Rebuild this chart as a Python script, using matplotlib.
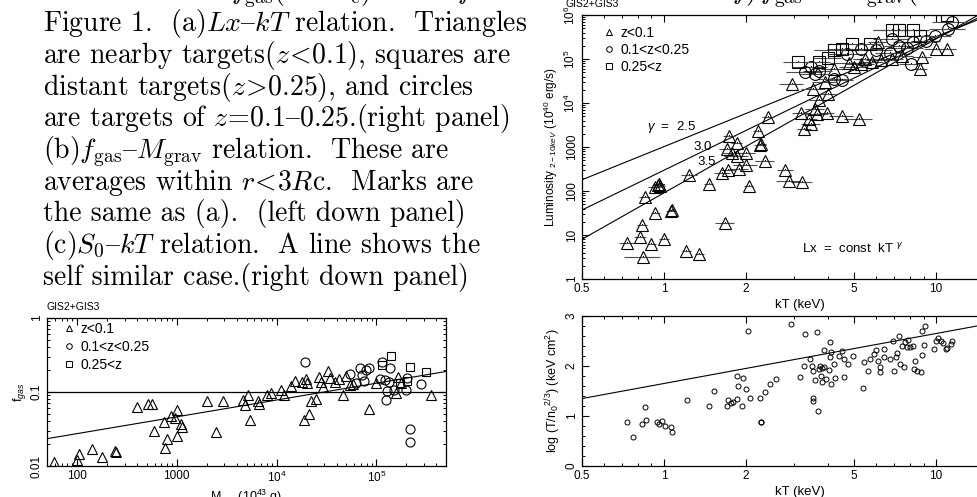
import matplotlib.pyplot as plt
from matplotlib.lines import Line2D
from matplotlib.ticker import LogLocator, MultipleLocator, NullFormatter
import numpy as np

plt.rcParams['font.family'] = ['Liberation Sans', 'DejaVu Sans']
plt.rcParams['mathtext.fontset'] = 'custom'
plt.rcParams['mathtext.rm'] = 'Liberation Sans'
plt.rcParams['mathtext.it'] = 'Liberation Sans:italic'
plt.rcParams['mathtext.bf'] = 'Liberation Sans:bold'
plt.rcParams['axes.linewidth'] = 0.9

# ---- caption text (serif, cut page); '{' is the en dash slot of cmr10 ----
caption = [
    r"Figure 1.  (a)$Lx${$kT$ relation.  Triangles",
    r"are nearby targets($z\!<\!0.1$), squares are",
    r"distant targets($z\!>\!0.25$), and circles",
    r"are targets of $z\!=\!0.1${$0.25$.(right panel)",
    r"(b)$f_{\mathrm{gas}}${$M_{\mathrm{grav}}$ relation.  These are",
    r"averages within $r\!<\!3R$c.  Marks are",
    r"the same as (a).  (left down panel)",
    r"(c)$S_0${$kT$ relation.  A line shows the",
    r"self similar case.(right down panel)",
]
cut_x = [231, 457, 732, 840]
cut_txt = [r"$f_{\mathrm{gas}}(<3R_{\mathrm{c}})$", r"$f$",
           r"$f)\,f_{\mathrm{gas}}$", r"$M_{\mathrm{grav}}(<3R_{\mathrm{c}})$"]

# ---- (a) Lx - kT ----
tri_kT = [0.73, 0.815, 0.84, 0.90, 1.00, 0.83, 0.93, 1.06, 1.07, 0.85, 0.93, 0.95,
          0.96, 0.97, 1.21, 1.35, 1.24, 1.46, 1.68, 1.64, 1.72, 2.05, 1.89, 2.00,
          1.78, 1.85, 2.00, 1.70, 1.85, 2.26, 2.28, 2.35, 2.79, 2.88, 3.21, 1.74,
          2.21, 2.42, 2.95, 3.20, 3.40, 3.47, 3.28, 3.65, 3.60, 3.99, 4.50, 5.20,
          3.54, 3.72, 4.00, 4.20, 5.30, 5.50, 6.10, 8.70, 8.90, 10.0, 11.0, 6.90,
          7.50, 5.80, 6.30, 4.80, 5.00, 3.90]
tri_L = [6.7, 9.2, 3.1, 6.1, 8.1, 17, 31.6, 35, 37, 73, 125, 135,
         145, 130, 4.4, 3.7, 237, 148, 18.7, 259, 297, 128, 318, 380,
         740, 620, 740, 910, 1250, 1090, 1150, 475, 297, 167, 158, 1780,
         2300, 4700, 2.7e4, 6000, 4300, 3300, 2500, 5500, 7200, 6000, 5100, 4400,
         2.07e4, 1.2e4, 1.6e4, 5.9e4, 7.7e4, 1.0e5, 2.4e5, 5.9e4, 1.1e5, 1.7e5, 1.7e5, 1.0e5,
         1.2e5, 8.5e4, 9.5e4, 8.0e4, 6.5e4, 3.0e4]
tri_e = [0.06, 0.05, 0.15, 0.04, 0.04, 0.04, 0.04, 0.04, 0.03, 0.05, 0.06, 0.05,
         0.05, 0.04, 0.04, 0.04, 0.07, 0.04, 0.08, 0.07, 0.06, 0.04, 0.08, 0.10,
         0.08, 0.10, 0.08, 0.06, 0.05, 0.05, 0.04, 0.08, 0.07, 0.10, 0.09, 0.05,
         0.04, 0.05, 0.10, 0.08, 0.07, 0.08, 0.06, 0.10, 0.08, 0.06, 0.10, 0.12,
         0.10, 0.08, 0.08, 0.10, 0.12, 0.10, 0.08, 0.06, 0.08, 0.10, 0.08, 0.10,
         0.10, 0.10, 0.12, 0.15, 0.12, 0.10]
cir_kT = [3.47, 3.7, 4.2, 4.5, 5.3, 6.0, 6.9, 7.3, 8.2, 8.1, 9.9, 11.1, 11.4, 6.8,
          4.7, 3.3, 3.6, 7.8, 9.2]
cir_L = [6.5e4, 5.4e4, 3.5e4, 3.3e4, 1.7e5, 1.6e5, 2.8e5, 2.0e5, 2.4e5, 7.7e4, 3.4e5,
         4.8e5, 6.9e5, 1.4e5, 1.3e5, 5.0e4, 4.5e4, 1.8e5, 2.6e5]
cir_e = [0.15, 0.12, 0.12, 0.10, 0.20, 0.15, 0.15, 0.12, 0.15, 0.10, 0.15, 0.15, 0.15,
         0.12, 0.15, 0.15, 0.12, 0.15, 0.12]
sq_kT = [3.1, 3.7, 4.0, 4.5, 4.9, 4.2, 6.9, 7.3, 8.2, 8.7, 11.0, 5.7]
sq_L = [8.6e4, 8.6e4, 1.05e5, 1.7e5, 2.2e5, 1.6e5, 4.5e5, 4.5e5, 4.5e5, 3.4e5, 9.8e5, 2.2e5]
sq_e = [0.12, 0.10, 0.12, 0.12, 0.12, 0.15, 0.15, 0.20, 0.15, 0.15, 0.12, 0.10]
gammas = [2.5, 3.0, 3.5]
L_at_half = [180, 37, 8]          # line value at kT = 0.5 keV

# ---- (b) fgas - Mgrav ----
tri_M = [59, 100, 105, 142, 177, 240, 245, 398, 515, 565, 593, 743, 760, 793, 875, 960,
         1000, 1000, 1090, 1120, 2000, 2480, 2900, 4600, 4790, 5170, 5380, 6530, 6700,
         8100, 8900, 11200, 11900, 14100, 15300, 19600, 20000, 19000, 21000, 22000,
         25000, 18000, 26500, 28000, 29000, 33000, 34000, 39000, 42000, 46000, 50000,
         55000, 58000, 84000, 100000, 157000, 165000, 175000, 350000]
tri_f = [0.0114, 0.012, 0.0145, 0.0168, 0.0133, 0.016, 0.0155, 0.063, 0.069, 0.069,
         0.0297, 0.039, 0.0174, 0.023, 0.047, 0.044, 0.0257, 0.057, 0.037, 0.034,
         0.0745, 0.0289, 0.0745, 0.0785, 0.066, 0.09, 0.042, 0.0745, 0.068, 0.092,
         0.097, 0.108, 0.092, 0.12, 0.14, 0.15, 0.133, 0.0416, 0.051, 0.0757, 0.081,
         0.136, 0.159, 0.136, 0.116, 0.192, 0.154, 0.136, 0.148, 0.090, 0.164, 0.123,
         0.13, 0.0597, 0.132, 0.098, 0.159, 0.134, 0.092]
cir_M = [19500, 55000, 62000, 68000, 72000, 79000, 84000, 76000, 108000, 115000, 121000,
         128000, 126000, 138000, 133000, 150000, 197000, 204000, 220000, 220000, 284000]
cir_f = [0.253, 0.173, 0.133, 0.21, 0.168, 0.196, 0.21, 0.139, 0.151, 0.253, 0.144,
         0.102, 0.079, 0.21, 0.137, 0.108, 0.108, 0.154, 0.032, 0.021, 0.13]
sq_M = [115000, 142000, 172000, 217000, 314000, 205000]
sq_f = [0.233, 0.302, 0.132, 0.217, 0.186, 0.14]
f_flat = 0.1
fit_f50, fit_slope = 0.0234, 0.227   # power law through M = 50

# ---- (c) S0 - kT ----
s_kT = [0.73, 0.77, 0.83, 0.85, 0.86, 0.94, 0.96, 0.98, 1.01, 1.06, 1.07, 1.22, 1.47, 1.53,
        1.70, 1.72, 1.77, 1.79, 1.86, 1.85, 1.87, 1.93, 1.95, 2.01, 2.03, 2.07, 2.25, 2.27,
        2.28, 2.35, 2.46, 2.58, 2.92, 3.16, 3.26, 3.30, 3.43, 3.49, 3.54, 3.52, 3.53, 3.58,
        3.65, 3.69, 3.71, 3.76, 3.78, 3.80, 3.81, 3.86, 3.89, 3.93, 4.04, 4.06, 4.08, 4.12,
        4.11, 4.20, 4.27, 4.40, 4.50, 4.60, 4.60, 4.75, 4.97, 5.37, 5.45, 5.60, 5.70, 5.90,
        6.00, 6.10, 6.20, 6.20, 6.45, 6.45, 6.80, 6.95, 6.98, 7.10, 7.20, 7.30, 7.40, 7.50,
        7.60, 7.70, 7.80, 7.90, 8.00, 8.20, 8.30, 8.40, 8.50, 8.80, 8.90, 8.90, 9.00, 9.10,
        9.80, 10.0, 10.2, 10.4, 10.6, 10.9, 11.0, 11.3, 11.4]
s_log = [0.88, 0.59, 0.85, 1.18, 0.93, 0.89, 0.85, 0.90, 0.81, 0.78, 0.68, 1.33, 1.21, 1.51,
         1.21, 1.33, 1.26, 1.28, 1.34, 1.81, 1.61, 1.21, 1.77, 1.55, 2.70, 1.37, 1.36, 0.89,
         0.89, 1.48, 1.65, 1.75, 2.85, 1.79, 2.01, 2.65, 2.15, 2.01, 1.91, 1.31, 1.36, 1.73,
         2.68, 1.11, 1.95, 2.01, 1.81, 1.68, 1.97, 1.98, 2.33, 1.75, 1.93, 2.48, 2.18, 2.29,
         1.65, 2.05, 1.77, 2.21, 2.31, 2.15, 1.79, 2.05, 2.21, 1.57, 2.08, 1.90, 2.15, 2.25,
         2.33, 2.11, 1.98, 1.89, 2.35, 2.19, 2.15, 2.51, 1.90, 2.18, 2.26, 2.61, 2.05, 2.41,
         1.98, 2.48, 2.38, 2.53, 2.38, 2.41, 1.95, 2.11, 1.90, 1.88, 2.23, 2.71, 2.43, 2.81,
         2.35, 2.51, 2.57, 2.51, 2.46, 2.35, 2.37, 2.45, 2.50]
ss_offset = 1.65   # log S = log kT + offset

W, H = 978, 497


def box(l, t, r, b):
    return [l / W, 1 - b / H, (r - l) / W, (b - t) / H]


def style(ax):
    ax.tick_params(which='both', direction='in', top=True, right=True, labelsize=8.5, pad=3)
    ax.tick_params(which='major', length=5, width=0.8)
    ax.tick_params(which='minor', length=2.5, width=0.7)


def rot_y(ax):
    for lab in ax.get_yticklabels():
        lab.set_rotation(90)
        lab.set_va('center')


fig = plt.figure(figsize=(W / 100, H / 100), dpi=100)

serif = ['cmr10', 'DejaVu Serif']
for i, line in enumerate(caption):
    fig.text(43 / W, 1 - (31 + 31.75 * i) / H, line, family=serif, size=20,
             math_fontfamily='cm', va='baseline')
for x, t in zip(cut_x, cut_txt):
    fig.text(x / W, 1 + 1 / H, t, family=serif, size=20, math_fontfamily='cm', va='baseline')

# (a)
ax1 = fig.add_axes(box(582, 15, 1018, 279))
ax1.set_xscale('log')
ax1.set_yscale('log')
kk = np.logspace(np.log10(0.5), np.log10(20), 100)
for g, a in zip(gammas, L_at_half):
    ax1.plot(kk, a * (kk / 0.5) ** g, color='k', lw=0.8)
for xs, ys, es, m in [(tri_kT, tri_L, tri_e, '^'), (cir_kT, cir_L, cir_e, 'o'),
                      (sq_kT, sq_L, sq_e, 's')]:
    xs = np.array(xs)
    ax1.errorbar(xs, ys, xerr=xs * np.array(es), fmt='none', ecolor='0.3', elinewidth=0.8, capsize=0)
    ax1.plot(xs, ys, m, ls='none', mfc='none', mec='k', mew=0.8, ms=8.5 if m != 's' else 8)
    ax1.plot(xs, ys, ',', color='k')
ax1.set_xlim(0.5, 20)
ax1.set_ylim(1, 1e6)
ax1.set_xticks([0.5, 1, 2, 5, 10], ['0.5', '1', '2', '5', '10'])
ax1.xaxis.set_minor_locator(LogLocator(subs=np.arange(2, 10) * 0.1 * 10))
ax1.xaxis.set_minor_formatter(NullFormatter())
ax1.set_yticks([1, 10, 100, 1000, 1e4, 1e5, 1e6],
               ['1', '10', '100', '1000', '10$^4$', '10$^5$', '10$^6$'])
style(ax1)
rot_y(ax1)
ax1.set_xlabel('kT (keV)', fontsize=9.5, labelpad=3)
ax1.set_ylabel('Luminosity $_{2-10keV}$ (10$^{40}$ erg/s)', fontsize=8.5, labelpad=2)
ax1.text(-16 / 436, 1 + 6 / 264, 'GIS2+GIS3', transform=ax1.transAxes, fontsize=7.5,
         ha='left', va='bottom')
ax1.text(0.87, 2850, r'$\gamma$  =  2.5', fontsize=9.5, va='center')
ax1.text(1.28, 1000, '3.0', fontsize=9.5, va='center')
ax1.text(1.33, 457, '3.5', fontsize=9.5, va='center')
ax1.text(3.22, 4.8, r'Lx  =  const  kT $^{\gamma}$', fontsize=9.5, va='center')
hd = [Line2D([], [], marker=m, ls='none', mfc='none', mec='k', mew=0.7, ms=4) for m in '^os']
ax1.legend(hd, ['z<0.1', '0.1<z<0.25', '0.25<z'], loc='upper left', frameon=False,
           bbox_to_anchor=(20 / 436, 1 - 11 / 264), borderaxespad=0, borderpad=0,
           handlelength=1.0, handletextpad=0.3, labelspacing=0.2, fontsize=10)

# (b)
ax2 = fig.add_axes(box(47, 318, 446, 466))
ax2.set_xscale('log')
ax2.set_yscale('log')
mm = np.logspace(np.log10(50), np.log10(5e5), 50)
ax2.axhline(f_flat, color='k', lw=0.9)
ax2.plot(mm, fit_f50 * (mm / 50) ** fit_slope, color='k', lw=0.8)
for xs, ys, m in [(tri_M, tri_f, '^'), (cir_M, cir_f, 'o'), (sq_M, sq_f, 's')]:
    ax2.plot(xs, ys, m, ls='none', mfc='none', mec='k', mew=0.8, ms=6.5 if m != 's' else 6)
ax2.set_xlim(50, 5e5)
ax2.set_ylim(0.01, 1)
ax2.set_xticks([100, 1000, 1e4, 1e5], ['100', '1000', '10$^4$', '10$^5$'])
ax2.set_yticks([0.01, 0.1, 1], ['0.01', '0.1', '1'])
ax2.xaxis.set_minor_formatter(NullFormatter())
ax2.yaxis.set_minor_formatter(NullFormatter())
style(ax2)
rot_y(ax2)
ax2.set_xlabel('M$_{grav}$(10$^{43}$ g)', fontsize=9, labelpad=2)
ax2.set_ylabel('f$_{gas}$', fontsize=9, labelpad=2)
ax2.text(0, 1.04, 'GIS2+GIS3', transform=ax2.transAxes, fontsize=7.5, ha='left', va='bottom')
hd = [Line2D([], [], marker=m, ls='none', mfc='none', mec='k', mew=0.7, ms=4) for m in '^os']
ax2.legend(hd, ['z<0.1', '0.1<z<0.25', '0.25<z'], loc='upper left', frameon=False,
           bbox_to_anchor=(15 / 399, 1 - 4 / 148), borderaxespad=0, borderpad=0,
           handlelength=1.0, handletextpad=0.3, labelspacing=0.3, fontsize=10)

# (c)
ax3 = fig.add_axes(box(582, 316, 1018, 466))
ax3.set_xscale('log')
ax3.plot(kk, np.log10(kk) + ss_offset, color='k', lw=0.8)
ax3.plot(s_kT, s_log, 'o', ls='none', mfc='none', mec='k', mew=0.7, ms=3.6)
ax3.set_xlim(0.5, 20)
ax3.set_ylim(0, 3)
ax3.set_xticks([0.5, 1, 2, 5, 10], ['0.5', '1', '2', '5', '10'])
ax3.xaxis.set_minor_locator(LogLocator(subs=np.arange(2, 10) * 0.1 * 10))
ax3.xaxis.set_minor_formatter(NullFormatter())
ax3.set_yticks([0, 1, 2, 3])
ax3.yaxis.set_minor_locator(MultipleLocator(0.2))
style(ax3)
rot_y(ax3)
ax3.set_xlabel('kT (keV)', fontsize=9.5, labelpad=3)
ax3.set_ylabel('log (T/n$_0$$^{2/3}$) (keV cm$^2$)', fontsize=9, labelpad=2)

fig.savefig('out.png', dpi=100)
